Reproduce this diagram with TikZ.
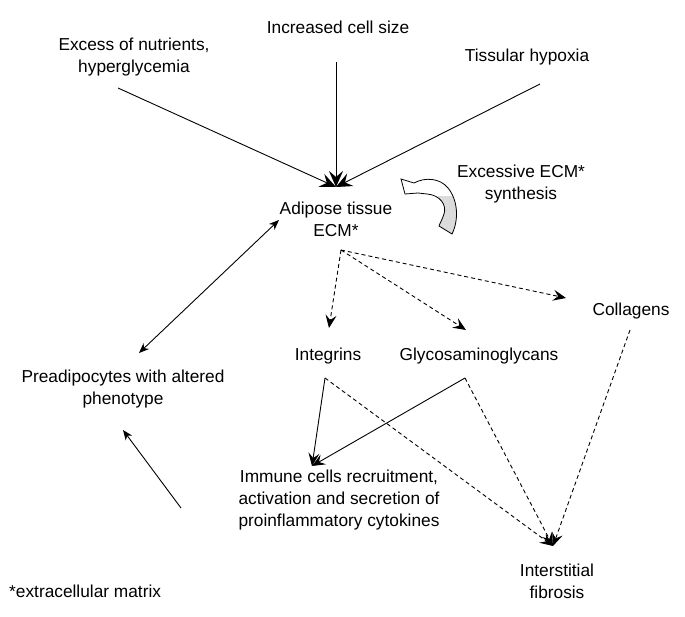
\documentclass[tikz,border=0pt]{standalone}
\usepackage{fontspec}
\setmainfont{Liberation Sans}
\usetikzlibrary{arrows.meta}
\begin{document}
\begin{tikzpicture}[x=1pt,y=-1pt,
  lbl/.style={font=\fontsize{17.3}{22}\selectfont, align=center, inner sep=0pt},
  conn/.style={line width=0.9pt},
  dconn/.style={line width=0.9pt, dash pattern=on 4pt off 3pt},
  bigtip/.style={-{Stealth[length=16pt,width=14pt,inset=6pt]}},
  midtip/.style={-{Stealth[length=13pt,width=11pt,inset=5pt]}},
  smalltip/.style={-{Stealth[length=10pt,width=8pt,inset=3pt]}},
  dbltip/.style={{Stealth[length=10pt,width=8pt,inset=3pt]}-{Stealth[length=10pt,width=8pt,inset=3pt]}}
]
\useasboundingbox (0,0) rectangle (685,617);
\fill[white] (0,0) rectangle (685,617);

% nodes
\node[lbl] (nutr) at (134,57) {Excess of nutrients,\\hyperglycemia};
\node[lbl] (size) at (338,27) {Increased cell size};
\node[lbl] (hypox) at (527,57) {Tissular hypoxia};
\node[lbl] (ecm) at (336,219) {Adipose tissue\\ECM*};
\node[lbl] (excess) at (521,184) {Excessive ECM*\\synthesis};
\node[lbl] (coll) at (631,311) {Collagens};
\node[lbl] (integ) at (328,356) {Integrins};
\node[lbl] (glyco) at (479,356) {Glycosaminoglycans};
\node[lbl] (pread) at (123,389) {Preadipocytes with altered\\phenotype};
\node[lbl] (immune) at (339,500) {Immune cells recruitment,\\activation and secretion of\\proinflammatory cytokines};
\node[lbl] (fib) at (557,581) {Interstitial\\fibrosis};
\node[lbl, anchor=west] (foot) at (9,591) {*extracellular matrix};

% anchor coordinates
\coordinate (nutrEnd) at (118,88);
\coordinate (sizeEnd) at (336,62);
\coordinate (hypoxEnd) at (540,84);
\coordinate (ecmTop) at (336,187);
\coordinate (ecmLeft) at (279,220);
\coordinate (ecmBot) at (341,250);
\coordinate (preadTop) at (139,353);
\coordinate (preadBot) at (123,430);
\coordinate (immuneLeft) at (181,508);
\coordinate (integTip) at (329,328);
\coordinate (glycoTip) at (466,330);
\coordinate (collTip) at (566,298);
\coordinate (integBot) at (325,378);
\coordinate (glycoBot) at (465,378);
\coordinate (collBot) at (630,330);
\coordinate (immuneTop) at (312,466);
\coordinate (fibTop) at (553,546);

% incoming to ECM
\draw[conn,bigtip] (nutrEnd) -- (ecmTop);
\draw[conn,bigtip] (sizeEnd) -- (ecmTop);
\draw[conn,bigtip] (hypoxEnd) -- (ecmTop);

% double arrow ECM <-> preadipocytes
\draw[conn,dbltip] (preadTop) -- (ecmLeft);
% immune -> preadipocytes
\draw[conn,smalltip] (immuneLeft) -- (preadBot);

% dashed from ECM
\draw[dconn,midtip] (ecmBot) -- (integTip);
\draw[dconn,midtip] (ecmBot) -- (glycoTip);
\draw[dconn,midtip] (ecmBot) -- (collTip);

% to immune cells
\draw[conn,midtip] (integBot) -- (immuneTop);
\draw[conn,midtip] (glycoBot) -- (immuneTop);

% to fibrosis
\draw[dconn,midtip] (integBot) -- (fibTop);
\draw[dconn,midtip] (glycoBot) -- (fibTop);
\draw[dconn,midtip] (collBot) -- (fibTop);

% curved hollow arrow
\def\curvedarrow{(401,179) -- (405,194) -- (418,193) -- (427,194)
  .. controls (440,195) and (447,205) .. (444,214)
  .. controls (442,220) and (440,223) .. (439,226)
  -- (452,234)
  .. controls (459,220) and (458,200) .. (448,188)
  .. controls (440,178) and (425,177) .. (414,183) -- cycle}
\fill[white] \curvedarrow;
\begin{scope}
  \clip (438,197) rectangle (470,240);
  \fill[gray!28] \curvedarrow;
\end{scope}
\draw[line width=0.8pt, line join=miter] \curvedarrow;
\end{tikzpicture}
\end{document}
